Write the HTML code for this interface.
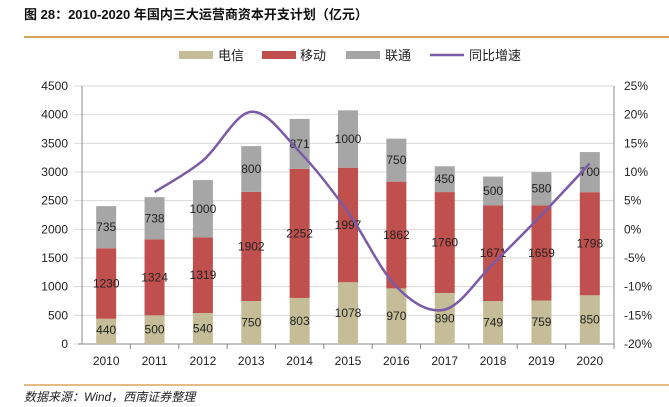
<!DOCTYPE html>
<html><head><meta charset="utf-8"><style>
body{margin:0;background:#fff;width:669px;height:402px;overflow:hidden;font-family:"Liberation Sans","Noto Sans CJK SC",sans-serif}
svg text{font-family:"Liberation Sans","Noto Sans CJK SC",sans-serif}
</style></head><body>
<svg width="669" height="402">
<text x="24" y="19" font-size="13" font-weight="bold" fill="#111">图 28：2010-2020 年国内三大运营商资本开支计划（亿元）</text>
<line x1="24" y1="37" x2="669" y2="37" stroke="#d9a55a" stroke-width="2"/>
<g font-size="13" fill="#222">
<rect x="179" y="51" width="34" height="8" fill="#c4bd97"/><text x="218" y="60">电信</text>
<rect x="262" y="51" width="34" height="8" fill="#c0504d"/><text x="300" y="60">移动</text>
<rect x="346" y="51" width="34" height="8" fill="#a6a6a6"/><text x="385" y="60">联通</text>
<line x1="430" y1="55" x2="464" y2="55" stroke="#7b5ba6" stroke-width="2.5"/><text x="469" y="60">同比增速</text>
</g>
<g id="plot"></g>
<line x1="24" y1="385" x2="669" y2="385" stroke="#d9a55a" stroke-width="1.5"/>
<text x="24" y="401" font-size="12" font-style="italic" fill="#222">数据来源：Wind，西南证券整理</text>
</svg>
<script>
const years=['2010','2011','2012','2013','2014','2015','2016','2017','2018','2019','2020'];
const telecom=[440,500,540,750,803,1078,970,890,749,759,850];
const mobile=[1230,1324,1319,1902,2252,1997,1862,1760,1671,1659,1798];
const unicom=[735,738,1000,800,871,1000,750,450,500,580,700];
const growth=[null,6.5,12,20.5,13.5,3,-10,-14,-6,2.5,11.5];
const leftTicks=[0,500,1000,1500,2000,2500,3000,3500,4000,4500];
const rightTicks=[-20,-15,-10,-5,0,5,10,15,20,25];
const NS='http://www.w3.org/2000/svg';
const g=document.getElementById('plot');
const X0=82,X1=614,Y0=344,Y1=86;
const step=(X1-X0)/years.length;
const xc=i=>X0+step*(i+0.5);
const yL=v=>Y0-(v/4500)*(Y0-Y1);
const yR=v=>Y0-((v+20)/45)*(Y0-Y1);
function el(t,a,txt){const e=document.createElementNS(NS,t);for(const k in a)e.setAttribute(k,a[k]);if(txt!==undefined)e.textContent=txt;g.appendChild(e);return e;}
leftTicks.forEach(v=>{
 const l=el('line',{x1:X0-8,x2:X1,y1:yL(v),y2:yL(v),stroke:'#d9d9d9'});
 
 
 const t=el('text',{x:X0-14,y:yL(v)+4,'font-size':12,'text-anchor':'end',fill:'#222'},v);
 
 
});
rightTicks.forEach(v=>{
 const t=el('text',{x:X1+10,y:yR(v)+4,'font-size':12,fill:'#222'},v+'%');
 
 
});
const ax=el('line',{x1:X0,x2:X0,y1:Y1,y2:Y0,stroke:'#888'});
const ax2=el('line',{x1:X1,x2:X1,y1:Y1,y2:Y0,stroke:'#888'});
const ax3=el('line',{x1:X0-4,x2:X1,y1:Y0,y2:Y0,stroke:'#888'});
const bw=20;
years.forEach((yr,i)=>{
 const cx=xc(i);
 const tk=el('line',{x1:X0+step*(i+1),x2:X0+step*(i+1),y1:Y0,y2:Y0+5,stroke:'#888'});
 
 const segs=[[telecom[i],'#c4bd97','bar-telecom-'+yr],[mobile[i],'#c0504d','bar-mobile-'+yr],[unicom[i],'#a6a6a6','bar-unicom-'+yr]];
 let base=0;
 segs.forEach((s,k)=>{
  const r=el('rect',{x:cx-bw/2,y:yL(base+s[0]),width:bw,height:yL(base)-yL(base+s[0]),fill:s[1]});
  
  
  let ly=k==0?Math.min(yL(base+s[0]/2)+4,334):yL(base+s[0]/2)+4;
  const t=el('text',{x:cx,y:ly,'font-size':12,'text-anchor':'middle',fill:'#222'},s[0]);
  
  
  base+=s[0];
 });
 const xl=el('text',{x:cx,y:Y0+21,'font-size':12,'text-anchor':'middle',fill:'#222'},yr);
 
 
});
const pts=[];growth.forEach((v,i)=>{if(v!==null)pts.push([xc(i),yR(v)]);});
let d='M'+pts[0][0]+','+pts[0][1];
for(let i=0;i<pts.length-1;i++){
 const p0=pts[Math.max(i-1,0)],p1=pts[i],p2=pts[i+1],p3=pts[Math.min(i+2,pts.length-1)];
 const c1=[p1[0]+(p2[0]-p0[0])/6,p1[1]+(p2[1]-p0[1])/6],c2=[p2[0]-(p3[0]-p1[0])/6,p2[1]-(p3[1]-p1[1])/6];
 d+=` C${c1[0]},${c1[1]} ${c2[0]},${c2[1]} ${p2[0]},${p2[1]}`;
}
const ln=el('path',{d:d,fill:'none',stroke:'#7b5ba6','stroke-width':2.5});


</script>
</body></html>
